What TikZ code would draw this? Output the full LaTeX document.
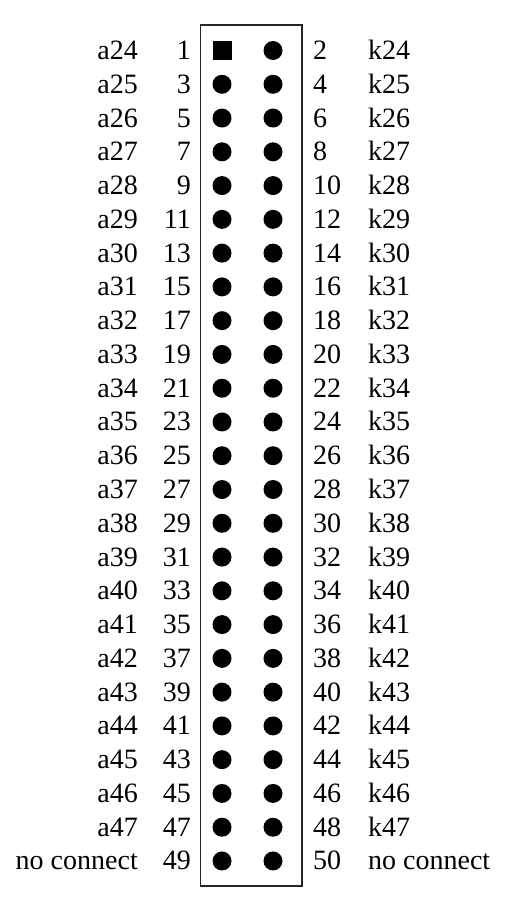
\documentclass[tikz,border=0pt]{standalone}
\usepackage{fontspec}
\setmainfont{Liberation Serif}

\tikzset{
    pinlabel/.style={inner sep=0pt, font=\fontsize{28}{30}\selectfont},
    pindot/.style={circle, fill=black, inner sep=0pt, minimum size=19pt},
    pinsquare/.style={rectangle, fill=black, inner sep=0pt, minimum size=19pt}
}

\begin{document}
\begin{tikzpicture}[x=1pt, y=-1pt]
    \useasboundingbox (0,0) rectangle (504,900);
    \node[draw=black!85, line width=1.6pt, inner sep=0pt, minimum width=101.5pt, minimum height=861pt] (header) at (251.25,455.5) {};

    \foreach \row in {0,...,24} {
        \pgfmathsetmacro{\ypin}{50.5+33.77*\row}
        \pgfmathsetmacro{\ytext}{\ypin+9}
        \pgfmathtruncatemacro{\odd}{2*\row+1}
        \pgfmathtruncatemacro{\even}{2*\row+2}
        \pgfmathtruncatemacro{\sig}{24+\row}
        \ifnum\row=24
            \def\aname{no connect}
            \def\kname{no connect}
        \else
            \edef\aname{a\sig}
            \edef\kname{k\sig}
        \fi
        \ifnum\row=0
            \node[pinsquare] (pin\odd) at (222,\ypin) {};
        \else
            \node[pindot] (pin\odd) at (222,\ypin) {};
        \fi
        \node[pindot] (pin\even) at (273,\ypin) {};
        \node[pinlabel, anchor=base east] (a\row) at (138,\ytext) {\aname};
        \node[pinlabel, anchor=base east] (num\odd) at (191,\ytext) {\odd};
        \node[pinlabel, anchor=base west] (num\even) at (313,\ytext) {\even};
        \node[pinlabel, anchor=base west] (k\row) at (368,\ytext) {\kname};
    }
\end{tikzpicture}
\end{document}
